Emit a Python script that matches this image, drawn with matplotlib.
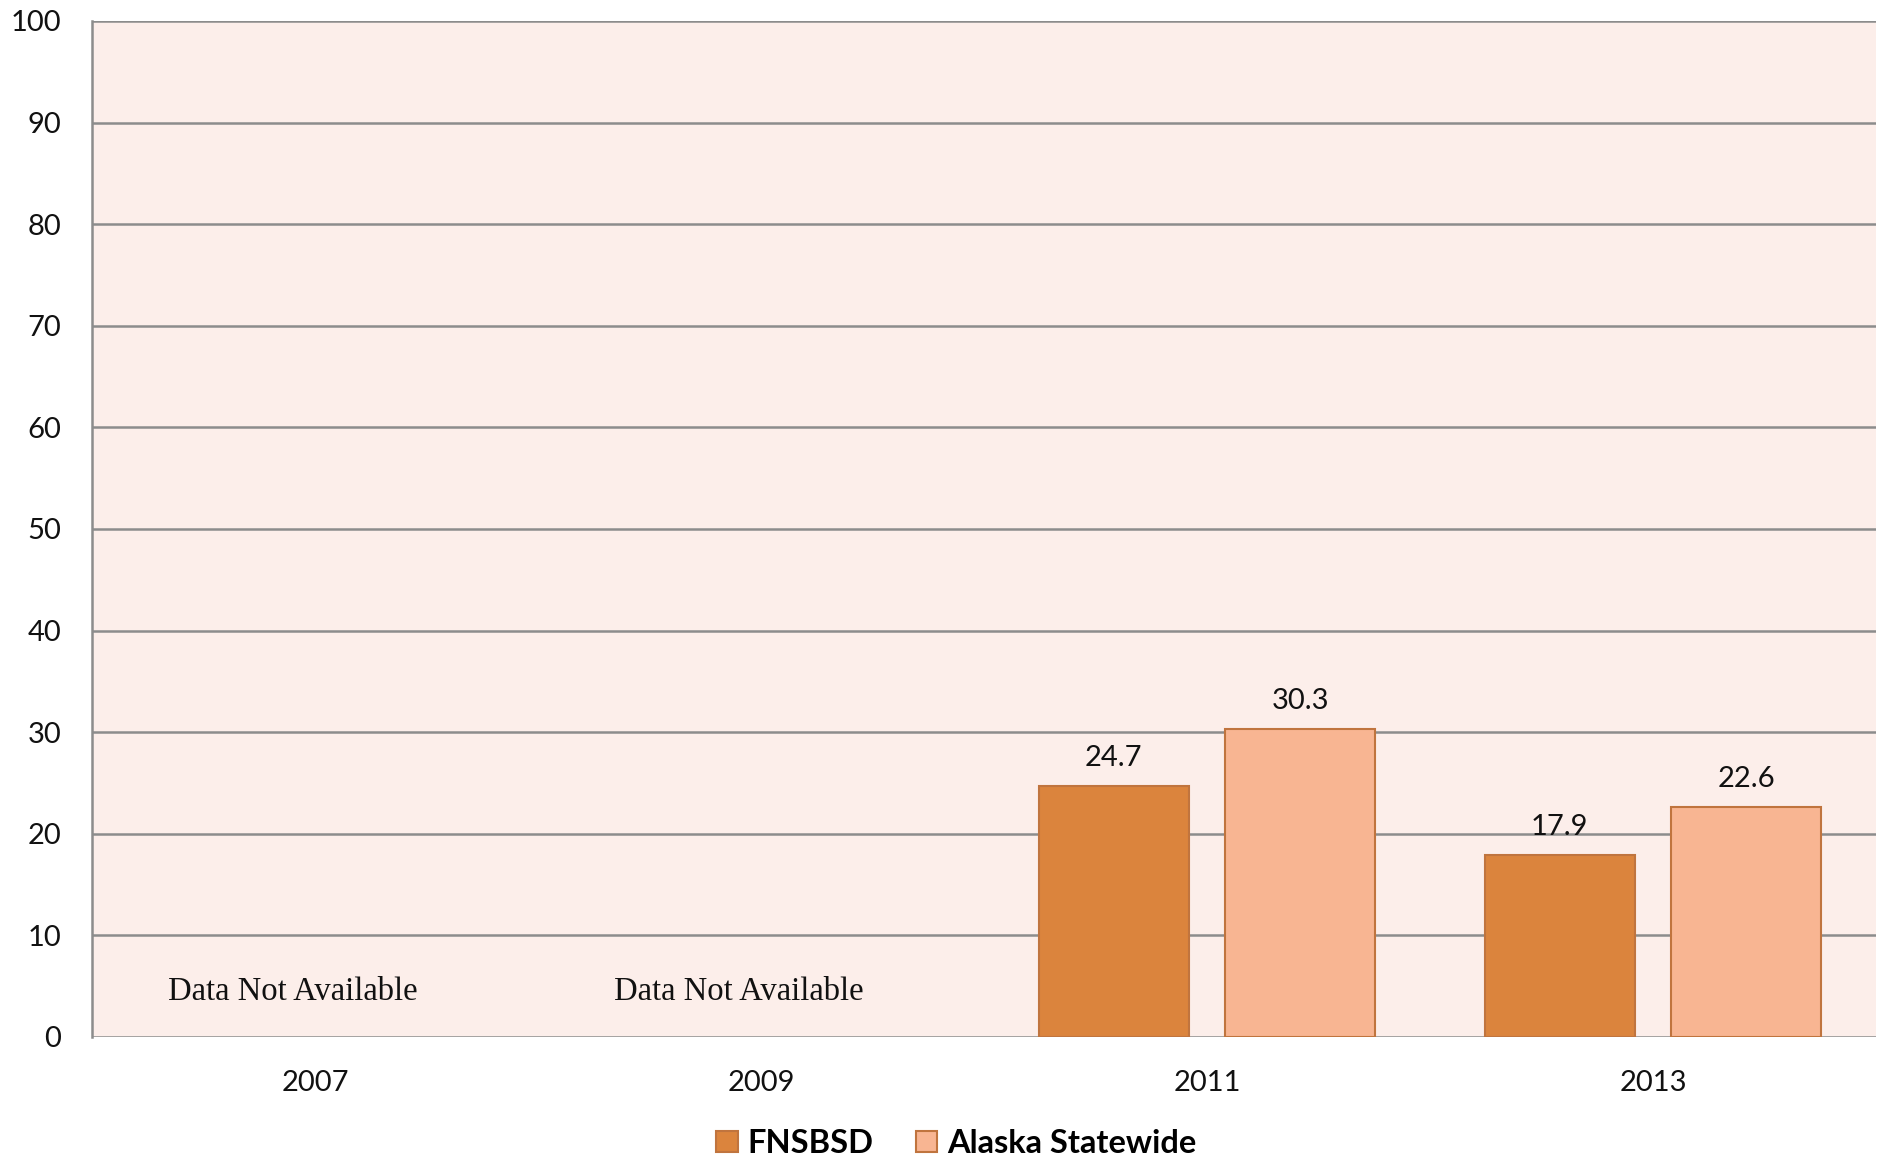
import matplotlib
matplotlib.use("Agg")
import matplotlib.pyplot as plt
from matplotlib.patches import Patch
import numpy as np

years = ["2007", "2009", "2011", "2013"]
fnsbsd = [None, None, 24.7, 17.9]
alaska = [None, None, 30.3, 22.6]
series_names = ["FNSBSD", "Alaska Statewide"]
na_text = "Data Not Available"
yticks = [0, 10, 20, 30, 40, 50, 60, 70, 80, 90, 100]

c_f = "#DB843D"
c_a = "#F8B592"
edge = "#C0743E"
bg = "#FCEEEA"
grid_c = "#8C8C8C"

plt.rcParams['font.family'] = ['Lato', 'DejaVu Sans']

fig = plt.figure(figsize=(18.86, 11.59), dpi=100)
ax = fig.add_axes([0.0488, 0.1053, 0.9459, 0.8766])
ax.set_facecolor(bg)

x = np.arange(len(years))
w = 0.336
off = 0.209
for i in range(len(years)):
    if fnsbsd[i] is None:
        ax.text(x[i] - 0.05, 3.6, na_text, ha='center', va='baseline',
                family='Liberation Serif', fontsize=23.5, color='#111111')
        continue
    for val, xo, col in ((fnsbsd[i], -off, c_f), (alaska[i], off, c_a)):
        ax.bar(x[i] + xo, val, width=w, color=col, edgecolor=edge, linewidth=1.5, zorder=3)
        ax.annotate(f"{val:.1f}", (x[i] + xo, val), xytext=(0, 14.5), textcoords='offset points',
                    ha='center', va='baseline', fontsize=21, color='#111111', zorder=4)

ax.set_xlim(-0.5, 3.5)
ax.set_ylim(0, 100)
ax.set_yticks(yticks)
ax.set_yticklabels([str(t) for t in yticks])
ax.set_xticks(x)
ax.set_xticklabels(years)
for t in yticks:
    ax.axhline(t, color=grid_c, linewidth=1.8, zorder=2)
ax.tick_params(axis='y', length=0, pad=22, labelsize=21, labelcolor='#111111')
ax.tick_params(axis='x', length=0, pad=24, labelsize=21, labelcolor='#111111')
for s in ['top', 'right', 'bottom']:
    ax.spines[s].set_visible(False)
ax.spines['left'].set_color(grid_c)
ax.spines['left'].set_linewidth(1.8)

handles = [Patch(facecolor=c_f, edgecolor=edge, linewidth=1.5),
           Patch(facecolor=c_a, edgecolor=edge, linewidth=1.5)]
fig.legend(handles, series_names, loc='center', bbox_to_anchor=(0.507, 0.0134),
           ncol=2, frameon=False, prop={'weight': 'bold', 'size': 23.5},
           handlelength=0.65, handleheight=0.65, handletextpad=0.3, columnspacing=1.3,
           borderpad=0, borderaxespad=0)

fig.savefig("out.png", dpi=100)
